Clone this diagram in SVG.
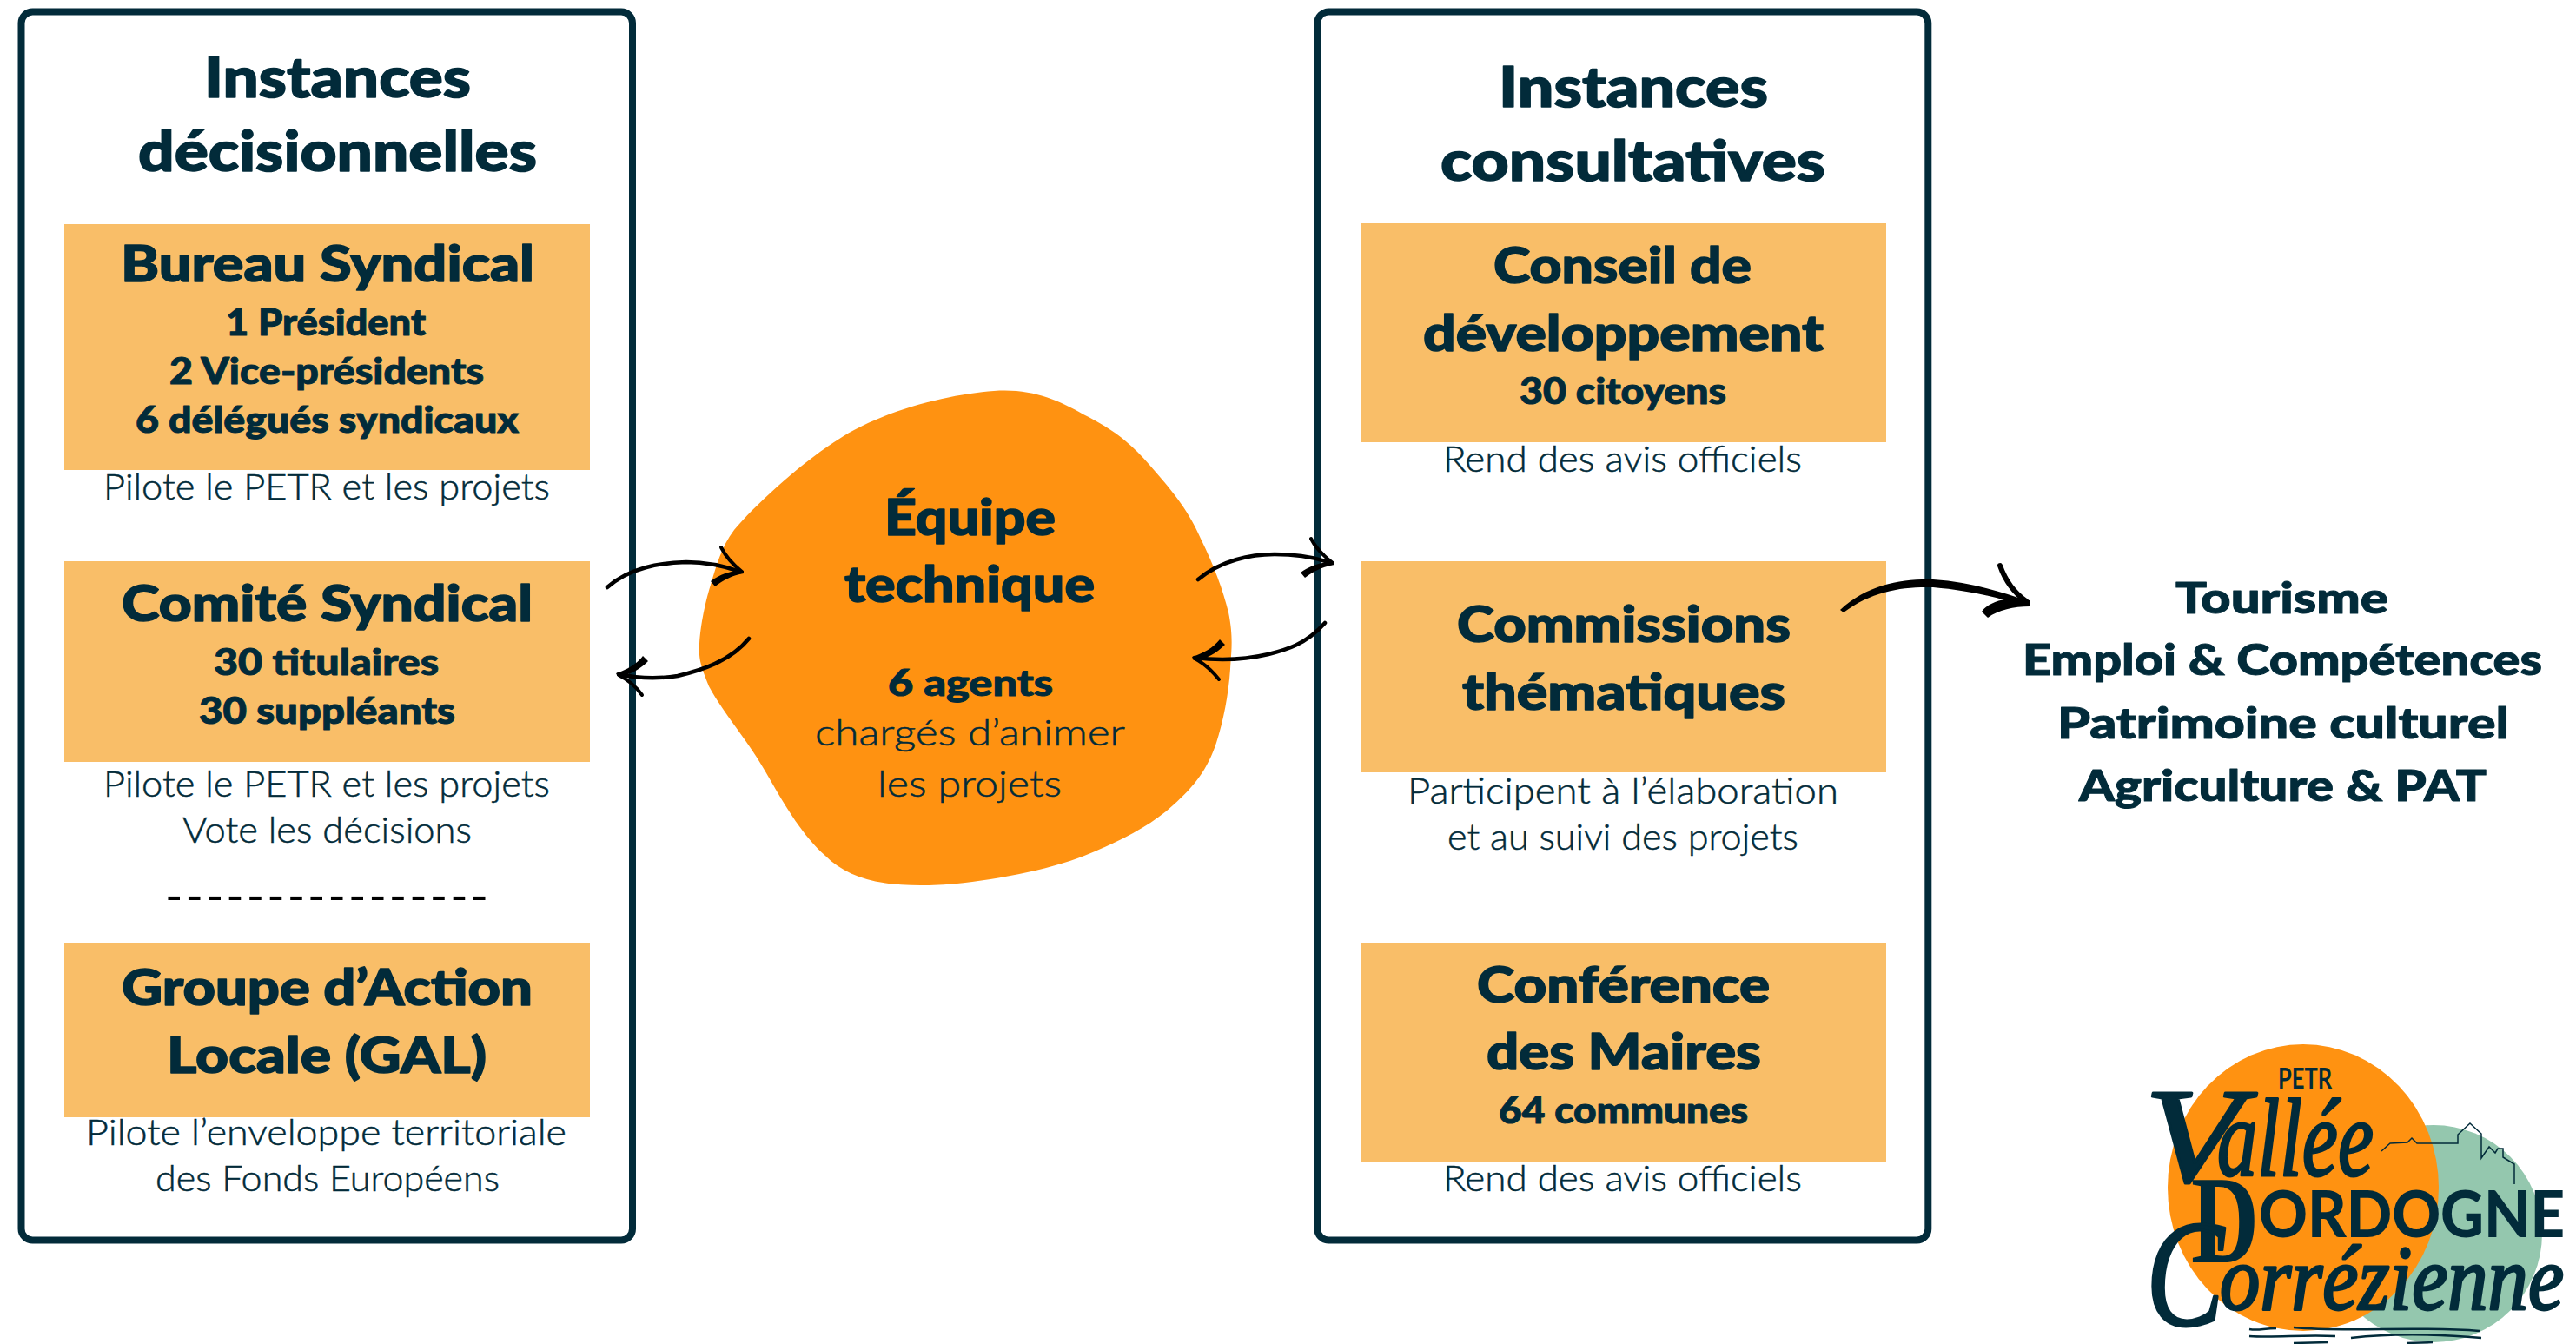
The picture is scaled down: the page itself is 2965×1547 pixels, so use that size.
<svg xmlns="http://www.w3.org/2000/svg" width="2965" height="1547" viewBox="0 0 2965 1547">
<style>
text{fill:#022b3a;font-family:"Lato","Noto Sans",sans-serif}
.h{font-size:64px;font-weight:900;stroke:#022b3a;stroke-width:1.500;stroke-linejoin:round}
.t{font-size:58px;font-weight:900;stroke:#022b3a;stroke-width:1.500;stroke-linejoin:round}
.s{font-size:42px;font-weight:900;stroke:#022b3a;stroke-width:1;stroke-linejoin:round}
.n{font-size:41px;font-weight:300;stroke:#022b3a;stroke-width:.5}
.r{font-size:50px;font-weight:900;stroke:#022b3a;stroke-width:1;stroke-linejoin:round}
.panel{fill:#fff;stroke:#022b3a;stroke-width:8}
.box{fill:#f9be68}
.sh{fill:none;stroke:#000;stroke-linecap:round;stroke-width:4.500}
.arm{fill:none;stroke:#000;stroke-linecap:round;stroke-width:4}
.hd{fill:#000}
.sc{font-family:"Liberation Serif",serif;font-style:italic;font-weight:400;stroke:#022b3a;stroke-width:3;stroke-linejoin:round}
.wv{fill:none;stroke:#022b3a;stroke-width:2.500}
</style>
<rect width="2965" height="1547" fill="#fff"/>
<g id="panel-decision">
<rect class="panel" x="24.500" y="13.500" width="703.500" height="1414" rx="13"/>
<text class="h" x="235" y="112" textLength="307" lengthAdjust="spacingAndGlyphs">Instances</text>
<text class="h" x="159" y="197" textLength="459" lengthAdjust="spacingAndGlyphs">décisionnelles</text>
</g>
<g id="bureau">
<rect class="box" x="74" y="258" width="605" height="283"/>
<text class="t" x="139" y="324" textLength="476" lengthAdjust="spacingAndGlyphs">Bureau Syndical</text>
<text class="s" x="260" y="386" textLength="230" lengthAdjust="spacingAndGlyphs">1 Président</text>
<text class="s" x="195" y="442" textLength="362" lengthAdjust="spacingAndGlyphs">2 Vice-présidents</text>
<text class="s" x="156" y="498" textLength="441" lengthAdjust="spacingAndGlyphs">6 délégués syndicaux</text>
<text class="n" x="119" y="575" textLength="514" lengthAdjust="spacingAndGlyphs">Pilote le PETR et les projets</text>
</g>
<g id="comite">
<rect class="box" x="74" y="646" width="605" height="231"/>
<text class="t" x="140" y="715" textLength="473" lengthAdjust="spacingAndGlyphs">Comité Syndical</text>
<text class="s" x="246" y="777" textLength="259" lengthAdjust="spacingAndGlyphs">30 titulaires</text>
<text class="s" x="229" y="833" textLength="295" lengthAdjust="spacingAndGlyphs">30 suppléants</text>
<text class="n" x="119" y="917" textLength="514" lengthAdjust="spacingAndGlyphs">Pilote le PETR et les projets</text>
<text class="n" x="210" y="970" textLength="333" lengthAdjust="spacingAndGlyphs">Vote les décisions</text>
<text x="190" y="1050" font-size="55" font-weight="400" style="fill:#000" textLength="372">----------------</text>
</g>
<g id="gal">
<rect class="box" x="74" y="1085" width="605" height="201"/>
<text class="t" x="140" y="1157" textLength="473" lengthAdjust="spacingAndGlyphs">Groupe d’Action</text>
<text class="t" x="192" y="1235" textLength="368" lengthAdjust="spacingAndGlyphs">Locale (GAL)</text>
<text class="n" x="99" y="1318" textLength="553" lengthAdjust="spacingAndGlyphs">Pilote l’enveloppe territoriale</text>
<text class="n" x="179" y="1371" textLength="396" lengthAdjust="spacingAndGlyphs">des Fonds Européens</text>
</g>
<g id="panel-consultative">
<rect class="panel" x="1516.300" y="13.500" width="703" height="1414" rx="13"/>
<text class="h" x="1725" y="123" textLength="310" lengthAdjust="spacingAndGlyphs">Instances</text>
<text class="h" x="1658" y="208" textLength="443" lengthAdjust="spacingAndGlyphs">consultatives</text>
</g>
<g id="conseil">
<rect class="box" x="1566" y="257" width="605" height="252"/>
<text class="t" x="1719" y="326" textLength="297" lengthAdjust="spacingAndGlyphs">Conseil de</text>
<text class="t" x="1638" y="404" textLength="461" lengthAdjust="spacingAndGlyphs">développement</text>
<text class="s" x="1749" y="465" textLength="238" lengthAdjust="spacingAndGlyphs">30 citoyens</text>
<text class="n" x="1661" y="543" textLength="413" lengthAdjust="spacingAndGlyphs">Rend des avis officiels</text>
</g>
<g id="commissions">
<rect class="box" x="1566" y="646" width="605" height="243"/>
<text class="t" x="1677" y="739" textLength="384" lengthAdjust="spacingAndGlyphs">Commissions</text>
<text class="t" x="1683" y="817" textLength="372" lengthAdjust="spacingAndGlyphs">thématiques</text>
<text class="n" x="1620" y="925" textLength="496" lengthAdjust="spacingAndGlyphs">Participent à l’élaboration</text>
<text class="n" x="1666" y="978" textLength="404" lengthAdjust="spacingAndGlyphs">et au suivi des projets</text>
</g>
<g id="conference">
<rect class="box" x="1566" y="1085" width="605" height="252"/>
<text class="t" x="1700" y="1154" textLength="337" lengthAdjust="spacingAndGlyphs">Conférence</text>
<text class="t" x="1711" y="1231" textLength="316" lengthAdjust="spacingAndGlyphs">des Maires</text>
<text class="s" x="1725" y="1293" textLength="287" lengthAdjust="spacingAndGlyphs">64 communes</text>
<text class="n" x="1661" y="1371" textLength="413" lengthAdjust="spacingAndGlyphs">Rend des avis officiels</text>
</g>
<g id="equipe">
<path fill="#ff9211" d="M1144 450C1188 447 1217 460 1247 477C1277 492 1300 508 1323 535C1345 560 1367 585 1382 620C1397 650 1408 680 1414 705C1420 735 1417 750 1416 770C1414 800 1408 830 1400 855C1390 885 1375 905 1350 927C1325 950 1290 968 1248 985C1198 1005 1107 1020 1060 1019C1010 1019 975 1010 950 985C925 963 905 930 885 895C860 850 835 825 816 790C808 770 804 760 805 745C805 727 811 695 818 673C825 650 830 630 845 610C870 580 933 522 983 495C1033 468 1100 453 1144 450Z"/>
<text class="t" x="1018" y="616" textLength="197" lengthAdjust="spacingAndGlyphs">Équipe</text>
<text class="t" x="972" y="693" textLength="288" lengthAdjust="spacingAndGlyphs">technique</text>
<text class="s" x="1022" y="801" textLength="190" lengthAdjust="spacingAndGlyphs">6 agents</text>
<text class="n" x="938" y="858" textLength="357" lengthAdjust="spacingAndGlyphs">chargés d’animer</text>
<text class="n" x="1010" y="917" textLength="212" lengthAdjust="spacingAndGlyphs">les projets</text>
</g>
<g id="themes">
<text class="r" x="2504" y="706" textLength="245" lengthAdjust="spacingAndGlyphs">Tourisme</text>
<text class="r" x="2328" y="777" textLength="598" lengthAdjust="spacingAndGlyphs">Emploi &amp; Compétences</text>
<text class="r" x="2368" y="850" textLength="520" lengthAdjust="spacingAndGlyphs">Patrimoine culturel</text>
<text class="r" x="2393" y="922" textLength="469" lengthAdjust="spacingAndGlyphs">Agriculture &amp; PAT</text>
</g>
<g id="connectors">
<g>
<path class="sh" d="M699 676C725 653 760 648 790 647C815 647 835 652 852 658"/>
<path class="arm" d="M830 630C836 642 845 651 854 658"/>
<path class="hd" d="M856 657C843 656 829 661 818 669L823 675C832 668 843 662 856 660Z"/>
</g>
<g>
<path class="sh" d="M862 735C840 762 805 772 780 778C755 782 735 781 712 776"/>
<path class="arm" d="M712 777C722 782 732 790 739 800"/>
<path class="hd" d="M709 775C722 771 733 764 740 755L746 761C737 770 725 778 711 778Z"/>
</g>
<g>
<path class="sh" d="M1379 667C1405 645 1440 638 1467 638C1495 638 1515 642 1532 648"/>
<path class="arm" d="M1509 620C1515 632 1525 641 1534 648"/>
<path class="hd" d="M1536 647C1523 646 1508 651 1497 659L1502 665C1511 658 1523 652 1536 650Z"/>
</g>
<g>
<path class="sh" d="M1525 717C1503 742 1480 748 1460 753C1430 760 1400 760 1375 757"/>
<path class="arm" d="M1375 758C1385 763 1395 772 1403 782"/>
<path class="hd" d="M1372 756C1385 752 1396 746 1404 736L1410 742C1401 751 1389 759 1374 760Z"/>
</g>
<g>
<path fill="#000" d="M2118 702C2150 672 2190 666 2225 667C2270 670 2305 682 2333 691L2331 698C2300 688 2270 680 2225 676C2190 675 2155 680 2122 705Z"/>
<path class="sh" style="stroke-width:6" d="M2302 651C2308 668 2318 682 2332 692"/>
<path class="hd" d="M2336 691L2336 698C2318 698 2300 702 2288 711L2281 704C2288 694 2302 690 2320 688Z"/>
</g>
</g>
<g id="logo">
<ellipse cx="2801" cy="1420" rx="125" ry="125" fill="#94c7ae"/>
<ellipse cx="2651" cy="1367" rx="156" ry="165" fill="#ff9211"/>
<path fill="none" stroke="#022b3a" stroke-width="1.500" d="M2741 1325L2751 1316L2771 1315L2776 1310L2782 1316L2829 1316L2829 1306L2843 1293L2856 1305L2856 1333L2865 1320L2872 1327L2875 1322L2881 1322L2881 1332L2894 1340L2894 1363"/>
<text x="2622" y="1253" font-size="32" font-weight="700" textLength="62" lengthAdjust="spacingAndGlyphs">PETR</text>
<text class="sc"><tspan x="2468" y="1360" font-size="155" textLength="112" lengthAdjust="spacingAndGlyphs">V</tspan><tspan x="2552" y="1353" font-size="128" textLength="180" lengthAdjust="spacingAndGlyphs">allée</tspan></text>
<text font-weight="900"><tspan x="2522" y="1453" font-size="145" font-family="Liberation Serif" textLength="78" lengthAdjust="spacingAndGlyphs">D</tspan><tspan x="2600" y="1424" font-size="75" textLength="352" lengthAdjust="spacingAndGlyphs">ORDOGNE</tspan></text>
<text class="sc"><tspan x="2470" y="1525" font-size="175" textLength="90" lengthAdjust="spacingAndGlyphs">C</tspan><tspan x="2555" y="1507" font-size="105" textLength="396" lengthAdjust="spacingAndGlyphs">orrézienne</tspan></text>
<path class="wv" d="M2589 1530C2600 1532 2605 1529 2620 1529M2640 1528C2700 1534 2780 1526 2854 1532M2589 1538C2620 1540 2650 1536 2688 1538M2706 1540C2760 1534 2810 1536 2856 1540M2640 1546L2680 1545M2770 1546L2800 1545"/>
</g>
</svg>
